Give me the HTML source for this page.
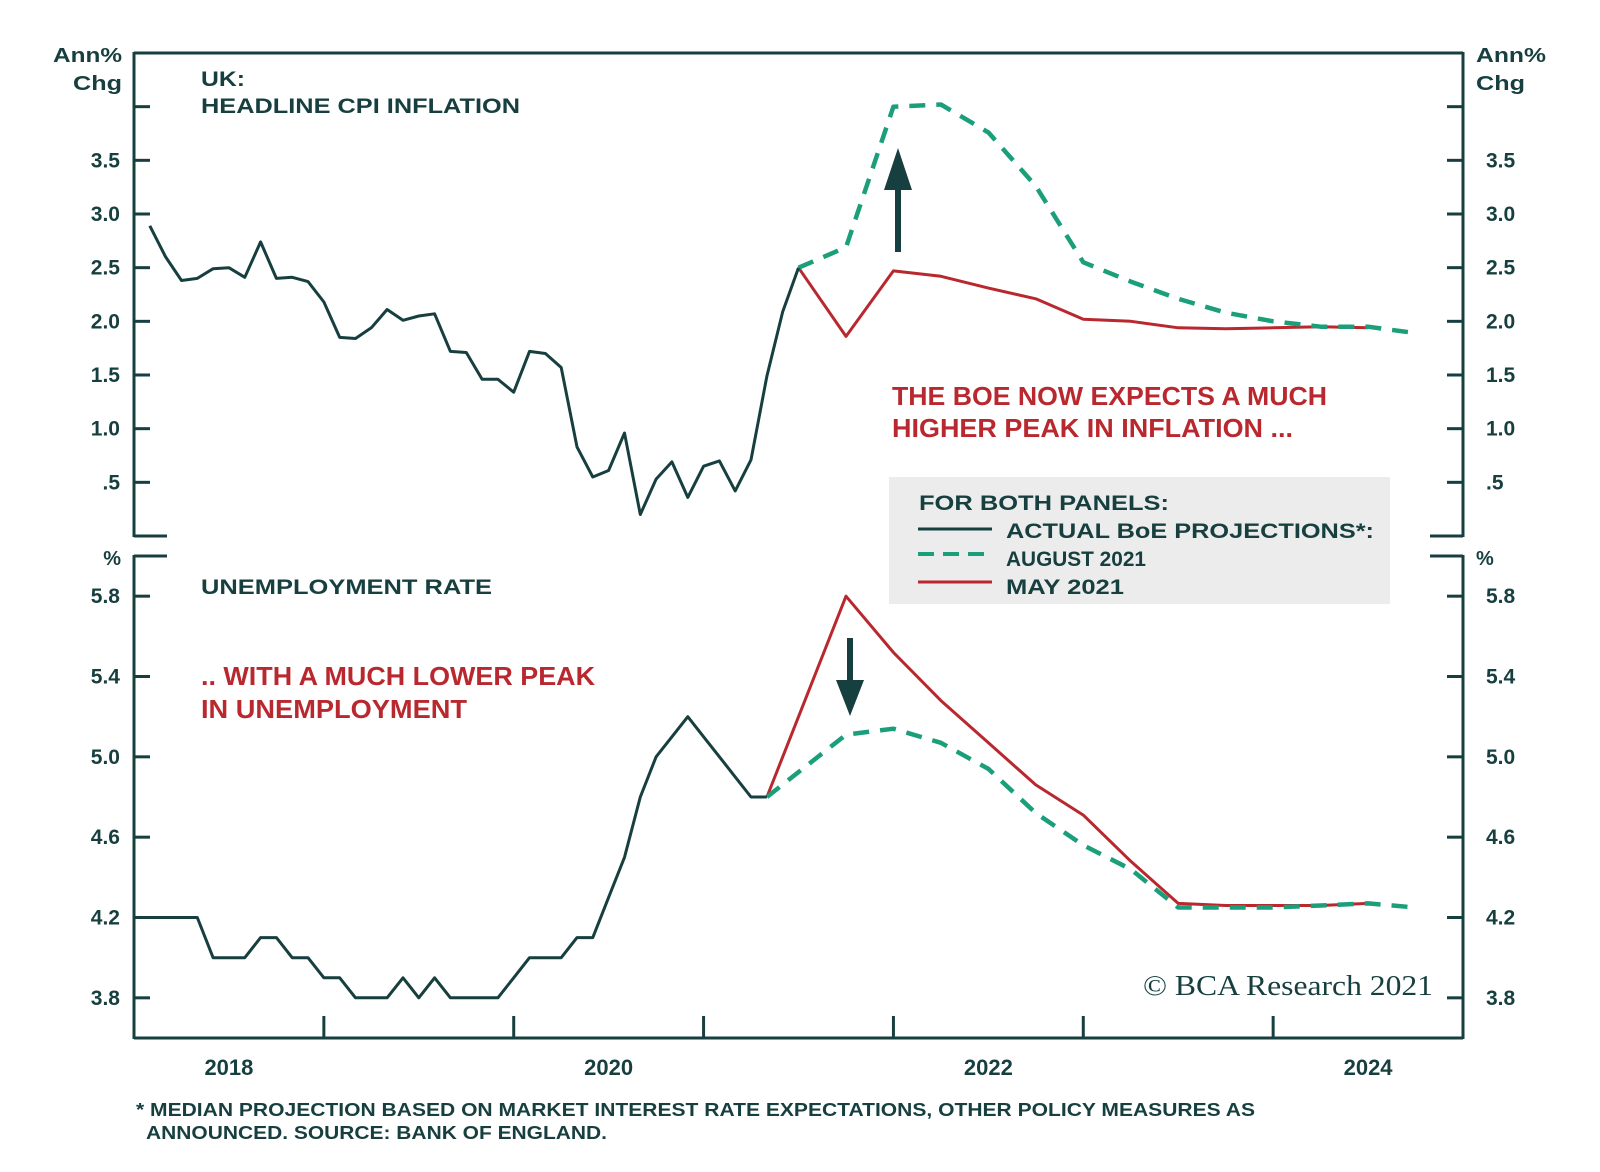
<!DOCTYPE html>
<html><head><meta charset="utf-8"><style>
html,body{margin:0;padding:0;background:#fff;}
svg{display:block;}
text{font-family:"Liberation Sans",Arial,sans-serif;font-weight:bold;fill:#173f3f;}
</style></head><body>
<svg id="chart" width="1600" height="1172" viewBox="0 0 1600 1172" xmlns="http://www.w3.org/2000/svg">
<g id="frame"></g>
<g id="marks"></g>
<rect x="889" y="477" width="501" height="127" fill="#ececec"/>
<g>
<text x="919" y="510" font-size="21" textLength="250" lengthAdjust="spacingAndGlyphs">FOR BOTH PANELS:</text>
<line x1="918" y1="529" x2="992" y2="529" stroke="#173f3f" stroke-width="3"/>
<text x="1006" y="538" font-size="21" textLength="368" lengthAdjust="spacingAndGlyphs">ACTUAL BoE PROJECTIONS*:</text>
<line x1="918" y1="554" x2="992" y2="554" stroke="#1a9f7a" stroke-width="4" stroke-dasharray="16,9"/>
<text x="1006" y="566" font-size="21" textLength="140" lengthAdjust="spacingAndGlyphs">AUGUST 2021</text>
<line x1="918" y1="582" x2="992" y2="582" stroke="#b8282e" stroke-width="3"/>
<text x="1006" y="594" font-size="21" textLength="118" lengthAdjust="spacingAndGlyphs">MAY 2021</text>
</g>
<text x="53" y="62" font-size="20" textLength="69" lengthAdjust="spacingAndGlyphs">Ann%</text>
<text x="73" y="90" font-size="20" textLength="49" lengthAdjust="spacingAndGlyphs">Chg</text>
<text x="1476" y="62" font-size="20" textLength="70" lengthAdjust="spacingAndGlyphs">Ann%</text>
<text x="1476" y="90" font-size="20" textLength="49" lengthAdjust="spacingAndGlyphs">Chg</text>
<text x="121" y="565" font-size="20" text-anchor="end">%</text>
<text x="1476" y="565" font-size="20">%</text>
<text x="201" y="86" font-size="21" textLength="44" lengthAdjust="spacingAndGlyphs">UK:</text>
<text x="201" y="113" font-size="21" textLength="319" lengthAdjust="spacingAndGlyphs">HEADLINE CPI INFLATION</text>
<text x="201" y="594" font-size="21" textLength="291" lengthAdjust="spacingAndGlyphs">UNEMPLOYMENT RATE</text>
<text x="892" y="405" font-size="26" textLength="435" lengthAdjust="spacingAndGlyphs" style="fill:#b8282e">THE BOE NOW EXPECTS A MUCH</text>
<text x="892" y="437" font-size="26" textLength="401" lengthAdjust="spacingAndGlyphs" style="fill:#b8282e">HIGHER PEAK IN INFLATION ...</text>
<text x="201" y="685" font-size="26" textLength="394" lengthAdjust="spacingAndGlyphs" style="fill:#b8282e">.. WITH A MUCH LOWER PEAK</text>
<text x="201" y="718" font-size="26" textLength="266" lengthAdjust="spacingAndGlyphs" style="fill:#b8282e">IN UNEMPLOYMENT</text>
<text x="1143" y="995" font-size="28" textLength="290" lengthAdjust="spacingAndGlyphs" style="font-family:'Liberation Serif',serif;font-weight:normal">© BCA Research 2021</text>
<text x="136" y="1116" font-size="18" textLength="1119" lengthAdjust="spacingAndGlyphs">* MEDIAN PROJECTION BASED ON MARKET INTEREST RATE EXPECTATIONS, OTHER POLICY MEASURES AS</text>
<text x="146" y="1139" font-size="18" textLength="461" lengthAdjust="spacingAndGlyphs">ANNOUNCED. SOURCE: BANK OF ENGLAND.</text>
</svg>
<script>
// data (time in years since Jan 2018)
const cpiActual = [2.89,2.60,2.38,2.40,2.49,2.50,2.41,2.74,2.40,2.41,2.37,2.18,1.85,1.84,1.94,2.11,2.01,2.05,2.07,1.72,1.71,1.46,1.46,1.34,1.72,1.70,1.57,0.83,0.55,0.61,0.96,0.20,0.53,0.69,0.36,0.65,0.70,0.42,0.71,1.49,2.09,2.50];
const unempActual = [4.2,4.2,4.2,4.2,4.2,4.0,4.0,4.0,4.1,4.1,4.0,4.0,3.9,3.9,3.8,3.8,3.8,3.9,3.8,3.9,3.8,3.8,3.8,3.8,3.9,4.0,4.0,4.0,4.1,4.1,4.3,4.5,4.8,5.0,5.1,5.2,5.1,5.0,4.9,4.8,4.8];
const projTimes = [3.75,4.0,4.25,4.5,4.75,5.0,5.25,5.5,5.75,6.0,6.25,6.5,6.75];
const cpiAug = [2.69,4.0,4.02,3.76,3.26,2.55,2.37,2.21,2.08,2.0,1.95,1.95,1.89];
const cpiMay = [1.86,2.47,2.42,2.31,2.21,2.02,2.0,1.94,1.93,1.94,1.95,1.94];
const unAug = [5.11,5.14,5.07,4.94,4.72,4.56,4.44,4.25,4.25,4.25,4.26,4.27,4.25];
const unMay = [5.8,5.52,5.28,5.07,4.86,4.71,4.48,4.27,4.26,4.26,4.26,4.27];
const topTicks = [0.5,1.0,1.5,2.0,2.5,3.0,3.5,4.0];
const topTickLabels = [".5","1.0","1.5","2.0","2.5","3.0","3.5",""];
const botTicks = [3.8,4.2,4.6,5.0,5.4,5.8];
const botTickLabels = ["3.8","4.2","4.6","5.0","5.4","5.8"];
const yearLabels = ["2018","2020","2022","2024"];

const NS="http://www.w3.org/2000/svg";
const X0=134,X1=1463;
const x=t=>X0+(t/7)*(X1-X0);
const yTop=v=>536-(v/4.5)*(536-53);
const yBot=v=>1038-((v-3.6)/2.4)*(1038-556);
const frame=document.getElementById('frame'),marks=document.getElementById('marks');
function mk(tag,attrs,parent){const e=document.createElementNS(NS,tag);for(const k in attrs)e.setAttribute(k,attrs[k]);parent.appendChild(e);return e;}
const C="#173f3f";
function ln(x1,y1,x2,y2,name){const e=mk('line',{x1,y1,x2,y2,stroke:C,'stroke-width':3},frame);

}
ln(X0,53,X1,53,'top-panel-top-border');ln(X0,52,X0,537,'top-left-axis');ln(X1,52,X1,537,'top-right-axis');
ln(X0,536,X0+33,536,'top-bottom-stub-left');ln(X1-33,536,X1,536,'top-bottom-stub-right');
ln(X0,556,X0+33,556,'bottom-top-stub-left');ln(X1-33,556,X1,556,'bottom-top-stub-right');
ln(X0,555,X0,1039,'bottom-left-axis');ln(X1,555,X1,1039,'bottom-right-axis');ln(X0,1038,X1,1038,'x-axis');
function lab(xx,yy,s,anchor,name,fs){const t=mk('text',{x:xx,y:yy,'font-size':fs||21,'text-anchor':anchor},frame);t.textContent=s;

}
topTicks.forEach((v,i)=>{const y=yTop(v);ln(X0,y,X0+16,y,'top-tick-left');ln(X1-16,y,X1,y,'top-tick-right');
if(topTickLabels[i]){lab(120,y+7,topTickLabels[i],'end','top-tick-label-left');lab(1486,y+7,topTickLabels[i],'start','top-tick-label-right');}});
botTicks.forEach((v,i)=>{const y=yBot(v);ln(X0,y,X0+16,y,'bottom-tick-left');ln(X1-16,y,X1,y,'bottom-tick-right');
lab(120,y+7,botTickLabels[i],'end','bottom-tick-label-left');lab(1486,y+7,botTickLabels[i],'start','bottom-tick-label-right');});
for(let yr=1;yr<7;yr++){ln(x(yr),1016,x(yr),1038,'x-tick');}
yearLabels.forEach((s,i)=>{lab(x(0.5+2*i),1075,s,'middle','x-tick-label',22);});
function path(pts,color,w,dash,name){const d=pts.map((p,i)=>(i?'L':'M')+p[0].toFixed(1)+','+p[1].toFixed(1)).join('');
const e=mk('path',{d,fill:'none',stroke:color,'stroke-width':w,'stroke-linejoin':'round'},marks);
if(dash)e.setAttribute('stroke-dasharray',dash);

}
const cpiPts=cpiActual.map((v,i)=>[x((i+1)/12),yTop(v)]);
const cEnd=cpiPts[cpiPts.length-1];
const uPts=unempActual.map((v,i)=>[x(i/12),yBot(v)]);
const uEnd=uPts[uPts.length-1];
path([cEnd].concat(cpiMay.map((v,i)=>[x(projTimes[i]),yTop(v)])),'#b8282e',3,null,'cpi-may-2021-line');
path([cEnd].concat(cpiAug.map((v,i)=>[x(projTimes[i]),yTop(v)])),'#1a9f7a',4.5,'16,11','cpi-august-2021-line');
path(cpiPts,C,3,null,'cpi-actual-line');
path([uEnd].concat(unMay.map((v,i)=>[x(projTimes[i]),yBot(v)])),'#b8282e',3,null,'unemployment-may-2021-line');
path([uEnd].concat(unAug.map((v,i)=>[x(projTimes[i]),yBot(v)])),'#1a9f7a',4.5,'16,11','unemployment-august-2021-line');
path(uPts,C,3,null,'unemployment-actual-line');
const up=mk('path',{d:'M895,252L895,190L884,190L898,148L912,190L901,190L901,252Z',fill:C},marks);


const dn=mk('path',{d:'M847,638L847,680L836,680L850,716L864,680L853,680L853,638Z',fill:C},marks);


</script>
</body></html>
